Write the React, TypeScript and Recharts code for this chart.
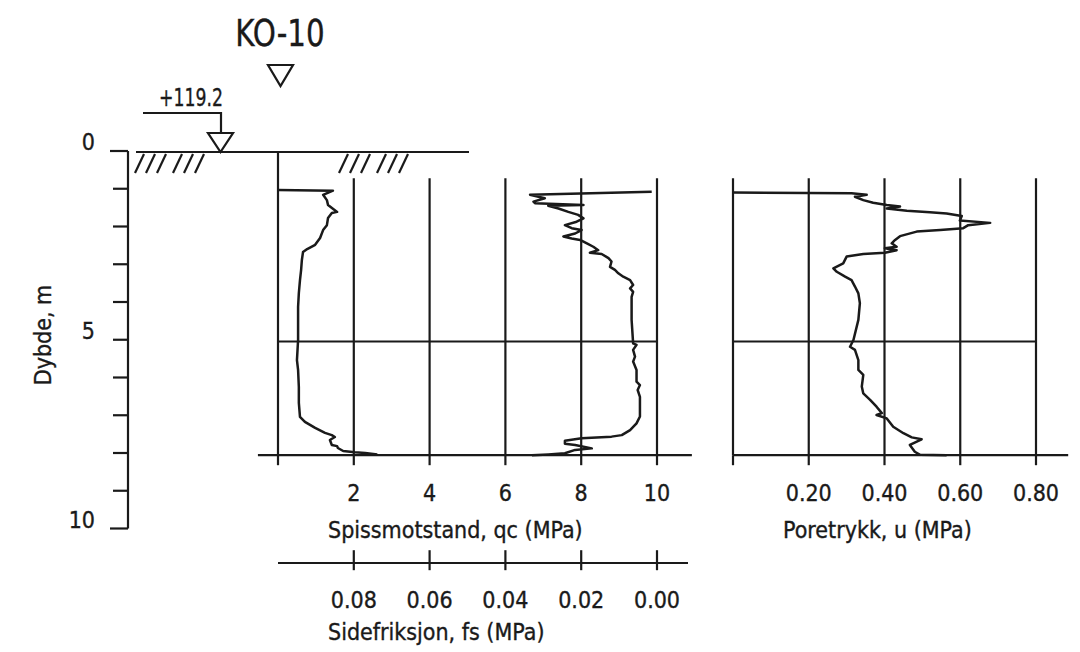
import React from "react";
import { ScatterChart, Scatter, XAxis, YAxis, ReferenceLine } from "recharts";

const W = 1080;
const H = 652;
const INK = "#1a1a1a";
const FONT = "'DejaVu Sans Condensed', 'Liberation Sans Narrow', sans-serif";
const FS_TEXT = 23;

// Spissmotstand qc (MPa) mot dybde (m)
const QC_DEPTH = [
  1.0, 1.02, 1.13, 1.27, 1.4, 1.58, 1.61, 1.74, 1.93, 2.06, 2.27, 2.45, 2.56, 2.64, 2.85, 3.11, 3.38,
  3.72, 4.09, 4.43, 4.96, 5.49, 5.75, 6.2, 6.62, 6.99, 7.12, 7.28, 7.41, 7.47, 7.52, 7.6, 7.73, 7.76,
  7.81, 7.89, 7.92, 7.94, 7.98,
];
const QC_MPA = [
  0, 1.45, 1.19, 1.29, 1.32, 1.56, 1.42, 1.32, 1.29, 1.19, 1.11, 0.98, 0.77, 0.66, 0.63, 0.61, 0.58,
  0.55, 0.53, 0.53, 0.53, 0.5, 0.53, 0.55, 0.55, 0.58, 0.71, 0.98, 1.24, 1.42, 1.5, 1.37, 1.42, 1.56,
  1.58, 1.72, 2.03, 2.3, 2.62,
];

// Sidefriksjon fs (MPa)
const FS_DEPTH = [
  1.05, 1.13, 1.22, 1.31, 1.35, 1.4, 1.42, 1.49, 1.58, 1.62, 1.66, 1.75, 1.84, 1.93, 2.01, 2.06, 2.15,
  2.23, 2.28, 2.32, 2.41, 2.5, 2.59, 2.66, 2.69, 2.8, 2.89, 3.03, 3.11, 3.2, 3.29, 3.38, 3.51, 3.6,
  3.69, 3.82, 4.43, 5.05, 5.09, 5.22, 5.4, 5.53, 5.75, 6.06, 6.15, 6.28, 6.46, 6.98, 7.16, 7.34, 7.47,
  7.51, 7.55, 7.62, 7.7, 7.73, 7.82, 7.86, 7.95, 7.98, 8.0,
];
const FS_MPA = [
  0.0014, 0.0335, 0.0296, 0.0326, 0.0322, 0.0194, 0.0287, 0.026, 0.0234, 0.0221, 0.0208, 0.0194,
  0.0212, 0.0243, 0.0225, 0.0199, 0.0216, 0.0247, 0.0225, 0.0203, 0.0185, 0.0168, 0.0155, 0.0177,
  0.0146, 0.0128, 0.012, 0.0124, 0.0111, 0.0102, 0.0089, 0.0071, 0.0063, 0.0071, 0.0063, 0.0067,
  0.0067, 0.0063, 0.0054, 0.0063, 0.0058, 0.0063, 0.0054, 0.0054, 0.0045, 0.0051, 0.0045, 0.0045,
  0.0054, 0.0071, 0.0093, 0.012, 0.0199, 0.0243, 0.0243, 0.0216, 0.0172, 0.0216, 0.0243, 0.0287,
  0.033,
];

// Poretrykk u (MPa)
const U_DEPTH = [
  1.07, 1.09, 1.13, 1.18, 1.27, 1.34, 1.4, 1.44, 1.49, 1.55, 1.59, 1.62, 1.69, 1.81, 1.87, 1.93, 2.01,
  2.06, 2.1, 2.22, 2.32, 2.41, 2.5, 2.54, 2.59, 2.66, 2.69, 2.76, 2.94, 3.07, 3.16, 3.29, 3.38, 3.55,
  3.73, 3.99, 4.43, 4.96, 5.14, 5.22, 5.49, 5.75, 5.88, 6.19, 6.37, 6.54, 6.72, 6.89, 6.94, 7.03,
  7.25, 7.42, 7.53, 7.58, 7.73, 7.91, 7.99, 8.0,
];
const U_MPA = [
  0, 0.313, 0.353, 0.322, 0.344, 0.37, 0.406, 0.441, 0.406, 0.459, 0.52, 0.564, 0.604, 0.599, 0.679,
  0.621, 0.608, 0.547, 0.485, 0.441, 0.428, 0.419, 0.432, 0.401, 0.432, 0.401, 0.344, 0.3, 0.291,
  0.265, 0.274, 0.296, 0.313, 0.322, 0.331, 0.335, 0.331, 0.318, 0.309, 0.322, 0.331, 0.331, 0.344,
  0.34, 0.344, 0.362, 0.379, 0.393, 0.379, 0.406, 0.423, 0.45, 0.472, 0.498, 0.467, 0.48, 0.494,
  0.564,
];

const DEPTH_TICKS = [0, 1, 2, 3, 4, 5, 6, 7, 8, 9, 10];
const DEPTH_LABELS = [0, 5, 10];
const QC_TICKS = [0, 2, 4, 6, 8, 10];
const FS_TICKS = [0, 0.02, 0.04, 0.06, 0.08];
const U_TICKS = [0, 0.2, 0.4, 0.6, 0.8];

const PROBE_BOTTOM = 8; // sonderingen stopper her
const GRID_TOP = 0.69; // rutenettet starter litt under terreng

const qcRows = QC_DEPTH.map((depth, i) => ({ depth, qc: QC_MPA[i] }));
const fsRows = FS_DEPTH.map((depth, i) => ({ depth, fs: FS_MPA[i] }));
const uRows = U_DEPTH.map((depth, i) => ({ depth, u: U_MPA[i] }));
const depthRows = DEPTH_TICKS.map((depth) => ({ depth, x: 0 }));

const noDot = () => <g />;
const lineStyle = { stroke: INK, strokeWidth: 2.5, strokeLinejoin: "round" as const };
const refStyle = { stroke: INK, strokeWidth: 2.2 };
const textStyle = { stroke: INK, strokeWidth: 0.35 };

// bottom axis tick: own tick line + label, tick y is the axis line
const BottomTick = (props: any) => {
  const { x, y, payload, up, down, dy, fmt } = props;
  const label = fmt(payload.value);
  return (
    <g>
      <line x1={x} x2={x} y1={y - up} y2={y + down} stroke={INK} strokeWidth={2.2} />
      {label !== "" && (
        <text x={x} y={y + dy} textAnchor="middle" fontFamily={FONT} fontSize={FS_TEXT} fill={INK} {...textStyle}>
          {label}
        </text>
      )}
    </g>
  );
};

const DepthTick = (props: any) => {
  const { x, y, payload } = props;
  const v = payload.value;
  const long = v === 0 || v === 10;
  return (
    <g>
      <line x1={x - (long ? 18 : 15)} x2={x} y1={y} y2={y} stroke={INK} strokeWidth={2.2} />
      {DEPTH_LABELS.includes(v) && (
        <text x={x - 33} y={y - 1} textAnchor="end" fontFamily={FONT} fontSize={FS_TEXT} fill={INK} {...textStyle}>
          {v}
        </text>
      )}
    </g>
  );
};

const fmtQc = (v: number) => (v === 0 ? "" : String(v));
const fmtFs = (v: number) => v.toFixed(2);
const fmtU = (v: number) => (v === 0 ? "" : v.toFixed(2));

const layer: React.CSSProperties = { position: "absolute", left: 0, top: 0 };

function DepthAxis() {
  return (
    <div style={layer}>
      <ScatterChart width={W} height={H} margin={{ top: 151, right: 600, bottom: H - 528.5, left: 0 }}>
        <XAxis type="number" dataKey="x" domain={[0, 1]} hide />
        <YAxis
          type="number"
          dataKey="depth"
          domain={[0, 10]}
          reversed
          ticks={DEPTH_TICKS}
          interval={0}
          width={128}
          axisLine={{ stroke: INK, strokeWidth: 2.2 }}
          tickLine={false}
          tickSize={0}
          tickMargin={0}
          tick={(p: any) => <DepthTick {...p} />}
        />
        <Scatter data={depthRows} shape={noDot} isAnimationActive={false} />
      </ScatterChart>
    </div>
  );
}

function ConePanel() {
  return (
    <div style={layer}>
      <ScatterChart width={W} height={H} margin={{ top: 152, right: W - 657, bottom: 8.8, left: 278 }}>
        <XAxis
          type="number"
          dataKey="qc"
          domain={[0, 10]}
          ticks={QC_TICKS}
          interval={0}
          height={108}
          axisLine={false}
          tickLine={false}
          tickSize={0}
          tickMargin={0}
          tick={(p: any) => <BottomTick {...p} up={0} down={10} dy={46} fmt={fmtQc} />}
        />
        <XAxis
          xAxisId="fs"
          type="number"
          dataKey="fs"
          domain={[0, 0.1]}
          reversed
          ticks={FS_TICKS}
          interval={0}
          height={80}
          axisLine={false}
          tickLine={false}
          tickSize={0}
          tickMargin={0}
          tick={(p: any) => <BottomTick {...p} up={13} down={7} dy={45} fmt={fmtFs} />}
        />
        <YAxis type="number" dataKey="depth" domain={[0, PROBE_BOTTOM]} reversed hide />
        <ReferenceLine segment={[{ x: 0, y: 0 }, { x: 0, y: PROBE_BOTTOM }]} {...refStyle} />
        {QC_TICKS.slice(1).map((v) => (
          <ReferenceLine key={v} segment={[{ x: v, y: GRID_TOP }, { x: v, y: PROBE_BOTTOM }]} {...refStyle} />
        ))}
        <ReferenceLine segment={[{ x: 0, y: 5 }, { x: 10, y: 5 }]} {...refStyle} />
        <ReferenceLine
          segment={[{ x: -0.53, y: PROBE_BOTTOM }, { x: 10.92, y: PROBE_BOTTOM }]}
          ifOverflow="visible"
          {...refStyle}
        />
        <Scatter data={qcRows} line={lineStyle} shape={noDot} isAnimationActive={false} />
        <Scatter xAxisId="fs" data={fsRows} line={lineStyle} shape={noDot} isAnimationActive={false} />
      </ScatterChart>
    </div>
  );
}

function PorePanel() {
  return (
    <div style={layer}>
      <ScatterChart width={W} height={H} margin={{ top: 152, right: W - 1036, bottom: 96.8, left: 733 }}>
        <XAxis
          type="number"
          dataKey="u"
          domain={[0, 0.8]}
          ticks={U_TICKS}
          interval={0}
          height={100}
          axisLine={false}
          tickLine={false}
          tickSize={0}
          tickMargin={0}
          tick={(p: any) => <BottomTick {...p} up={0} down={10} dy={46} fmt={fmtU} />}
        />
        <YAxis type="number" dataKey="depth" domain={[0, PROBE_BOTTOM]} reversed hide />
        {U_TICKS.map((v) => (
          <ReferenceLine key={v} segment={[{ x: v, y: GRID_TOP }, { x: v, y: PROBE_BOTTOM }]} {...refStyle} />
        ))}
        <ReferenceLine segment={[{ x: 0, y: 5 }, { x: 0.8, y: 5 }]} {...refStyle} />
        <ReferenceLine
          segment={[{ x: 0, y: PROBE_BOTTOM }, { x: 0.885, y: PROBE_BOTTOM }]}
          ifOverflow="visible"
          {...refStyle}
        />
        <Scatter data={uRows} line={lineStyle} shape={noDot} isAnimationActive={false} />
      </ScatterChart>
    </div>
  );
}

// terreng, hull-markering og aksetitler
function Annotations() {
  const hatch = [135, 146, 157, 173, 184, 195, 339, 350, 361, 377, 388, 399];
  return (
    <svg width={W} height={H} style={{ ...layer, pointerEvents: "none" }} fontFamily={FONT} fill={INK}>
      <text transform="translate(280 46) scale(0.86 1)" fontSize={38} textAnchor="middle" {...textStyle}>
        KO-10
      </text>
      <path d="M268 65 H293 L280.5 86 Z" fill="none" stroke={INK} strokeWidth={2.2} />

      <text transform="translate(159 106) scale(0.8 1)" fontSize={24} {...textStyle}>
        +119.2
      </text>
      <path d="M143 113 H221 V133" fill="none" stroke={INK} strokeWidth={2.2} />
      <path d="M208 133 H233 L220.5 152 Z" fill="none" stroke={INK} strokeWidth={2.2} />

      <line x1={136} x2={469} y1={152} y2={152} stroke={INK} strokeWidth={2.2} />
      {hatch.map((b) => (
        <line key={b} x1={b} y1={173} x2={b + 9} y2={154} stroke={INK} strokeWidth={2.2} />
      ))}

      <text
        x={43}
        y={335}
        fontSize={FS_TEXT}
        textAnchor="middle"
        dominantBaseline="central"
        transform="rotate(-90 43 335)"
        {...textStyle}
      >
        Dybde, m
      </text>
      <text x={328} y={538} fontSize={FS_TEXT} {...textStyle}>Spissmotstand, qc (MPa)</text>
      <line x1={278} x2={688} y1={563} y2={563} stroke={INK} strokeWidth={2.2} />
      <text x={328} y={640} fontSize={FS_TEXT} {...textStyle}>Sidefriksjon, fs (MPa)</text>
      <text x={783} y={538} fontSize={FS_TEXT} {...textStyle}>Poretrykk, u (MPa)</text>
    </svg>
  );
}

export default function App() {
  return (
    <div style={{ position: "absolute", left: 0, top: 0, width: W, height: H, background: "#fff" }}>
      <DepthAxis />
      <ConePanel />
      <PorePanel />
      <Annotations />
    </div>
  );
}
